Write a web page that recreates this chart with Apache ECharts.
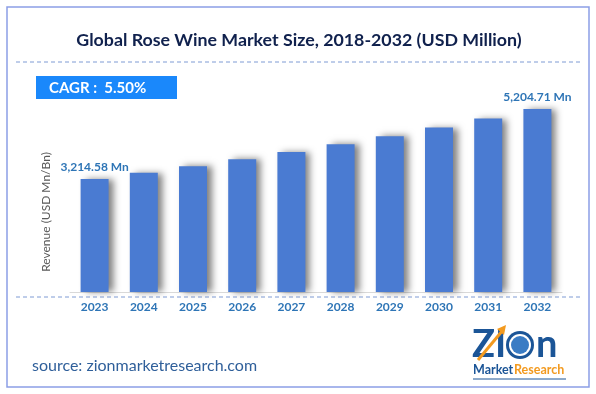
<!DOCTYPE html>
<html>
<head>
<meta charset="utf-8">
<script src="https://cdn.jsdelivr.net/npm/echarts@6/dist/echarts.min.js"></script>
<style>html,body{margin:0;padding:0;background:#fff}#c{width:596px;height:394px}</style>
</head>
<body>
<div id="c"></div>
<script>
const categories = ['2023','2024','2025','2026','2027','2028','2029','2030','2031','2032'];
const revenue = [3214.58, 3391, 3578, 3775, 3982, 4201, 4432, 4676, 4933, 5204.71];
const labelledIdx = [0, 9];
const labelTexts = ['3,214.58 Mn', '', '', '', '', '', '', '', '', '5,204.71 Mn'];
const titleText = 'Global Rose Wine Market Size, 2018-2032 (USD Million)';
const cagrText = 'CAGR :  5.50%';
const yName = 'Revenue (USD Mn/Bn)';
const sourceText = 'source: zionmarketresearch.com';

const FONT = 'Lato, "Open Sans", sans-serif';
const chart = echarts.init(document.getElementById('c'), null, {renderer: 'canvas'});

const data = revenue.map((v, i) => {
  const item = {value: v};
  if (labelledIdx.includes(i)) {
    item.label = {show: true, position: 'top', distance: 6, formatter: labelTexts[i],
      color: '#2e75b6', fontWeight: 'bold', fontSize: 12, fontFamily: FONT};
  }
  return item;
});

chart.setOption({
  animation: false,
  grid: {left: 70, right: 34, top: 81, bottom: 102},
  xAxis: {
    type: 'category', data: categories,
    axisLine: {show: true, lineStyle: {color: '#d9d9d9', width: 1}},
    axisTick: {show: false},
    axisLabel: {color: '#2e75b6', fontWeight: 'bold', fontSize: 12, margin: 9, fontFamily: FONT}
  },
  yAxis: {
    type: 'value', min: 0, max: 6000,
    axisLine: {show: false}, axisTick: {show: false}, axisLabel: {show: false},
    splitLine: {show: false}
  },
  series: [{
    type: 'bar', data: data, barWidth: 28,
    itemStyle: {color: '#4a7bd2', shadowColor: 'rgba(0,0,0,0.5)', shadowBlur: 7, shadowOffsetX: 5, shadowOffsetY: 0},
    label: {show: false}
  }],
  graphic: [
    {type: 'rect', shape: {x: 7, y: 7, width: 582, height: 380}, silent: true,
      style: {fill: 'none', stroke: '#8c9ee6', lineWidth: 1.5}},
    {type: 'text', x: 299, y: 40, style: {text: titleText, align: 'center', verticalAlign: 'middle',
      fill: '#10214d', font: 'bold 17.8px ' + FONT}},
    {type: 'line', shape: {x1: 16, y1: 62, x2: 583, y2: 62},
      style: {stroke: '#7f9bd4', lineWidth: 1, lineDash: [4, 3]}},
    {type: 'rect', shape: {x: 36, y: 76, width: 141, height: 23},
      style: {fill: '#1a88fb'}},
    {type: 'text', x: 49, y: 88, style: {text: cagrText, align: 'left', verticalAlign: 'middle',
      fill: '#ffffff', font: 'bold 15px ' + FONT}},
    {type: 'text', x: 46, y: 212, rotation: Math.PI / 2, style: {text: yName, align: 'center',
      verticalAlign: 'middle', fill: '#595959', font: '12px ' + FONT}},
    {type: 'line', shape: {x1: 16, y1: 297, x2: 583, y2: 297},
      style: {stroke: '#7f9bd4', lineWidth: 1, lineDash: [4, 3]}},
    {type: 'text', x: 32, y: 366, style: {text: sourceText, align: 'left', verticalAlign: 'middle',
      fill: '#2f5f9a', font: '16px ' + FONT}},
    // logo
    {type: 'text', x: 472, y: 345, style: {text: 'ZI', align: 'left', verticalAlign: 'middle',
      fill: '#1b5597', font: 'bold 38px ' + FONT}},
    {type: 'circle', shape: {cx: 520, cy: 345, r: 14}, style: {fill: '#1b5597'}},
    {type: 'circle', shape: {cx: 520, cy: 345, r: 11}, style: {fill: '#ffffff'}},
    {type: 'circle', shape: {cx: 520, cy: 345, r: 9}, style: {fill: '#3a7cc4'}},
    {type: 'text', x: 536, y: 345, style: {text: 'n', align: 'left', verticalAlign: 'middle',
      fill: '#1b5597', font: 'bold 38px ' + FONT}},
    {type: 'line', shape: {x1: 478, y1: 360, x2: 503, y2: 330}, style: {stroke: '#f39a1f', lineWidth: 3}},
    {type: 'polygon', shape: {points: [[506, 325], [497, 329], [504, 335]]}, style: {fill: '#f39a1f'}},
    {type: 'text', x: 473, y: 370, style: {text: 'Market', align: 'left', verticalAlign: 'middle',
      fill: '#1b5597', font: 'bold 12.5px ' + FONT}},
    {type: 'text', x: 514, y: 370, style: {text: 'Research', align: 'left', verticalAlign: 'middle',
      fill: '#f39a1f', font: 'bold 12.5px ' + FONT}},
    {type: 'line', shape: {x1: 473, y1: 379, x2: 566, y2: 379}, style: {stroke: '#1b5597', lineWidth: 1}}
  ]
});
</script>
</body>
</html>
